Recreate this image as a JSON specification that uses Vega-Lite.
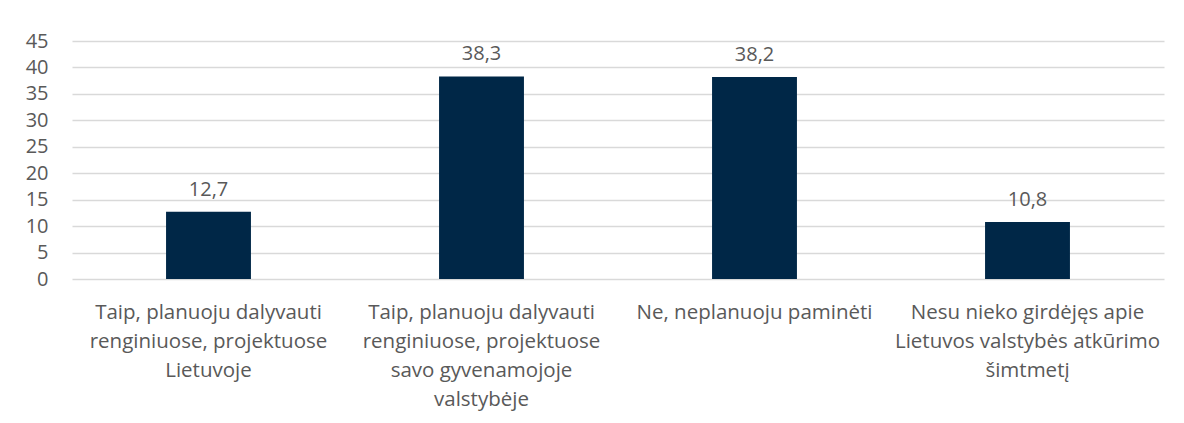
{
  "$schema": "https://vega.github.io/schema/vega-lite/v6.json",
  "autosize": "none",
  "width": 1092,
  "height": 238,
  "padding": {"left": 72, "top": 41, "right": 20, "bottom": 144},
  "background": "white",
  "config": {
    "view": {"stroke": null},
    "font": "Open Sans",
    "locale": {"number": {"decimal": ",", "thousands": " ", "grouping": [3], "currency": ["", " €"]}}
  },
  "data": {
    "values": [
      {"kat": "Taip, planuoju dalyvauti|renginiuose, projektuose|Lietuvoje", "val": 12.7},
      {"kat": "Taip, planuoju dalyvauti|renginiuose, projektuose|savo gyvenamojoje|valstybėje", "val": 38.3},
      {"kat": "Ne, neplanuoju paminėti", "val": 38.2},
      {"kat": "Nesu nieko girdėjęs apie|Lietuvos valstybės atkūrimo|šimtmetį", "val": 10.8}
    ]
  },
  "encoding": {
    "x": {
      "field": "kat", "type": "nominal", "sort": null,
      "scale": {"paddingInner": 0.689, "paddingOuter": 0.3445},
      "axis": {
        "title": null, "labelAngle": 0, "domain": false, "ticks": false,
        "labelExpr": "split(datum.label, '|')",
        "labelFont": "Open Sans", "labelFontSize": 20.5, "labelColor": "#595959",
        "labelLineHeight": 29, "labelPadding": 23, "labelLimit": 300, "labelBaseline": "top"
      }
    },
    "y": {
      "field": "val", "type": "quantitative",
      "scale": {"domain": [0, 45]},
      "axis": {
        "title": null, "values": [0,5,10,15,20,25,30,35,40,45], "domain": false, "ticks": false,
        "grid": true, "gridColor": "#d9d9d9", "gridWidth": 1.3,
        "labelFont": "Open Sans", "labelFontSize": 20, "labelColor": "#595959",
        "labelPadding": 24
      }
    }
  },
  "layer": [
    {"mark": {"type": "bar", "color": "#002747"}},
    {
      "mark": {"type": "text", "dy": -22, "font": "Open Sans", "fontSize": 20, "color": "#595959"},
      "encoding": {"text": {"field": "val", "type": "quantitative", "format": ".1f"}}
    }
  ]
}
